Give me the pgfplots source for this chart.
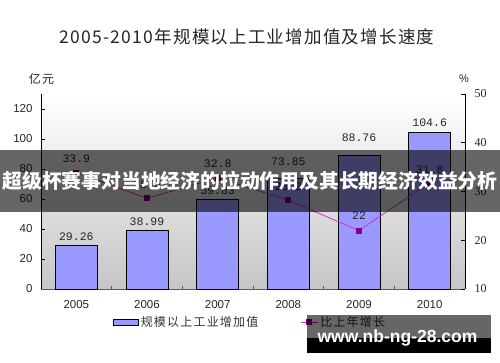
\documentclass[border=0pt]{standalone}
\usepackage{pgfplots}
\usepackage{pgfplotstable}
\pgfplotsset{compat=1.18}
\usepackage{fontspec}
\setmainfont{Liberation Sans}
\newfontfamily\cjk{Noto Sans CJK SC}
\newfontfamily\cjkls{Noto Sans CJK SC}[LetterSpace=10]
\newfontfamily\titlefont{Noto Sans CJK SC}[LetterSpace=7]
\newfontfamily\mono{Liberation Mono}
\newfontfamily\serif{Liberation Serif}
\definecolor{barblue}{RGB}{153,153,255}
\definecolor{linemag}{RGB}{204,51,204}
\definecolor{mkpurple}{RGB}{128,0,128}
\definecolor{axgray}{RGB}{90,90,90}

\pgfplotstableread{
x y label off
0 29.26 29.26 8
1 38.99 38.99 9
2 59.83 59.83 9
3 73.85 73.85 17
4 88.76 88.76 18
5 104.6 104.6 9
}\bars
\pgfplotstableread{
x y label off
0 33.9 33.9 14
1 28.6 28.6 14
2 32.8 32.8 14
3 28.2 28.2 14
4 22 22 15
5 31.8 31.8 13
}\growth

\begin{document}
\begin{tikzpicture}
\path[use as bounding box] (0pt,0pt) rectangle (500pt,362pt);
\fill[white] (0pt,0pt) rectangle (500pt,362pt);
% title and units
\node[font=\titlefont\fontsize{17.5}{19}\selectfont, text=black!85, anchor=center] at (247pt,325pt) {2005-2010年规模以上工业增加值及增长速度};
\node[font=\cjkls\fontsize{12}{13}\selectfont, text=black!85, anchor=center] at (41.5pt,283pt) {亿元};
\node[font=\fontsize{11}{12}\selectfont, text=black!85, anchor=center] at (464pt,283pt) {\%};

\begin{axis}[
  at={(41pt,73pt)}, anchor=south west,
  scale only axis, width=424pt, height=195pt,
  xmin=-0.5, xmax=5.5, ymin=0, ymax=130,
  clip=false,
  axis x line*=bottom, axis y line*=left,
  x axis line style={draw=axgray, line width=0.8pt, -},
  y axis line style={draw=black, line width=0.8pt, -},
  axis background/.style={shade, top color=white, bottom color=gray!45},
  xtick={0,1,2,3,4,5},
  xticklabels={2005,2006,2007,2008,2009,2010},
  major x tick style={draw=none},
  minor xtick={0.5,1.5,2.5,3.5,4.5},
  minor x tick style={draw=axgray, line width=0.8pt},
  minor tick length=3pt,
  ytick={0,20,40,60,80,100,120},
  major tick length=4pt,
  y tick style={draw=black, line width=0.8pt},
  /pgf/number format/assume math mode=true,
  ticklabel style={font=\fontsize{11.5}{13}\selectfont, text=black!85},
  xticklabel style={yshift=-8pt},
  yticklabel style={xshift=-5pt},
]
\addplot[ybar, bar width=42pt, fill=barblue, draw=black, line width=0.8pt,
  nodes near coords, point meta=explicit symbolic,
  visualization depends on={\thisrow{off}\as\myoff},
  every node near coord/.append style={anchor=center, yshift=\myoff pt, font=\mono\fontsize{11.5}{12}\selectfont, text=black!85}]
  table[x=x, y=y, meta=label]{\bars};
\end{axis}

\begin{axis}[
  at={(41pt,73pt)}, anchor=south west,
  scale only axis, width=424pt, height=195pt,
  xmin=-0.5, xmax=5.5, ymin=10, ymax=50,
  clip=false,
  hide x axis,
  axis y line*=right,
  y axis line style={draw=black, line width=0.8pt, -},
  ytick={10,20,30,40,50},
  major tick length=4pt,
  y tick style={draw=black, line width=0.8pt},
  /pgf/number format/assume math mode=true,
  yticklabel style={font=\serif\fontsize{12}{13}\selectfont, text=black!85, xshift=6pt},
  legend columns=2,
  legend style={at={(0.493,-0.169)}, anchor=center, draw=none, fill=none,
    font=\cjkls\fontsize{12}{13}\selectfont, text=black!80,
    /tikz/every even column/.append style={column sep=40pt}},
]
\addlegendimage{legend image code/.code={\draw[fill=barblue, draw=black, line width=0.8pt] (0pt,-3pt) rectangle (25pt,3pt);}}
\addlegendentry{规模以上工业增加值}
\addplot[color=linemag, line width=0.8pt, mark=square*,
  mark options={fill=mkpurple, draw=mkpurple}, mark size=2.5pt,
  nodes near coords, point meta=explicit symbolic,
  visualization depends on={\thisrow{off}\as\myoff},
  every node near coord/.append style={anchor=center, yshift=\myoff pt, font=\mono\fontsize{11.5}{12}\selectfont, text=black!85}]
  table[x=x, y=y, meta=label]{\growth};
\addlegendentry{比上年增长}
\end{axis}

% banner overlay
\fill[black, opacity=0.6] (0pt,150pt) rectangle (500pt,212pt);
\node[font=\cjk\bfseries\fontsize{19.8}{21}\selectfont, text=white, anchor=center] at (250pt,181pt) {超级杯赛事对当地经济的拉动作用及其长期经济效益分析};
% watermark
\fill[black, opacity=0.6] (307pt,24pt) rectangle (491pt,47pt);
\fill[black] (307pt,9pt) rectangle (491pt,24pt);
\node[font=\bfseries\fontsize{17.5}{19}\selectfont, text=white, anchor=base] at (397.5pt,20pt) {www.nb-ng-28.com};
\end{tikzpicture}
\end{document}
